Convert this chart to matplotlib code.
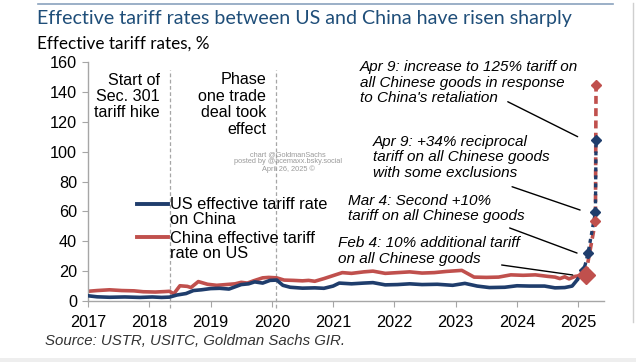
import matplotlib
matplotlib.use("Agg")
import matplotlib.pyplot as plt
from matplotlib.lines import Line2D
from matplotlib.patches import Rectangle

# ---- data (decimal years, effective tariff rate %) ----
us_x = [2017.00, 2017.15, 2017.35, 2017.60, 2017.85, 2018.05, 2018.20, 2018.33,
        2018.45, 2018.60, 2018.72, 2018.85, 2019.00, 2019.15, 2019.30, 2019.40,
        2019.50, 2019.62, 2019.72, 2019.85, 2019.97, 2020.08, 2020.18, 2020.30,
        2020.50, 2020.70, 2020.85, 2021.00, 2021.10, 2021.30, 2021.50, 2021.65,
        2021.85, 2022.05, 2022.25, 2022.45, 2022.70, 2022.95, 2023.15, 2023.35,
        2023.55, 2023.80, 2024.00, 2024.20, 2024.45, 2024.62, 2024.78, 2024.90,
        2024.98]
us_y = [3.5, 2.8, 2.5, 2.7, 2.4, 2.7, 2.4, 2.6,
        4.0, 5.0, 7.0, 7.5, 8.3, 8.5, 8.0, 9.5,
        11.0, 11.5, 12.8, 12.0, 13.8, 14.0, 10.5, 9.2,
        8.6, 8.8, 8.5, 10.0, 12.0, 11.5, 12.0, 12.3,
        10.8, 11.0, 11.5, 11.0, 11.2, 10.5, 11.8, 10.0,
        9.0, 9.2, 10.2, 10.0, 10.0, 8.8, 9.0, 10.0,
        14.0]
us_new_x = [2024.98, 2025.09, 2025.16, 2025.28, 2025.29]
us_new_y = [14.0, 20.5, 32.0, 59.5, 107.5]

cn_x = [2017.00, 2017.15, 2017.35, 2017.55, 2017.75, 2017.90, 2018.10, 2018.25,
        2018.33, 2018.40, 2018.50, 2018.62, 2018.68, 2018.80, 2018.95, 2019.10,
        2019.25, 2019.40, 2019.50, 2019.60, 2019.70, 2019.85, 2019.95, 2020.08,
        2020.20, 2020.35, 2020.50, 2020.60, 2020.70, 2020.85, 2021.00, 2021.15,
        2021.30, 2021.50, 2021.65, 2021.85, 2022.05, 2022.25, 2022.45, 2022.65,
        2022.85, 2023.10, 2023.30, 2023.50, 2023.70, 2023.90, 2024.10, 2024.30,
        2024.50, 2024.62, 2024.70, 2024.78, 2024.85, 2024.95, 2025.05, 2025.12]
cn_y = [6.5, 7.0, 7.5, 7.0, 6.8, 6.2, 6.0, 6.3,
        6.5, 4.8, 10.2, 9.8, 9.0, 13.0, 11.2, 10.5,
        11.0, 11.5, 12.5, 12.0, 13.5, 15.5, 15.8, 15.5,
        14.0, 13.8, 13.5, 13.8, 13.2, 15.0, 17.0, 19.0,
        18.5, 19.5, 20.0, 18.5, 19.0, 19.5, 18.7, 19.0,
        19.8, 20.5, 16.0, 15.8, 16.0, 17.5, 17.2, 17.5,
        16.5, 16.0, 15.0, 16.2, 14.8, 16.5, 17.0, 17.5]
cn_new_x = [2025.12, 2025.28, 2025.29]
cn_new_y = [17.5, 53.5, 144.6]

event_x = [2018.33, 2020.07]
year_ticks = list(range(2017, 2026))
y_ticks = list(range(0, 161, 20))

BLUE = "#1f3d6c"
RED = "#c0504d"
GRID = "#a6a6a6"
W, H = 636, 362


def fx(px):
    return px / W


def fy(py):
    return 1 - py / H


plt.rcParams['font.family'] = ['Liberation Sans', 'DejaVu Sans']

fig = plt.figure(figsize=(6.36, 3.62), dpi=100)
ax = fig.add_axes([fx(88), fy(301), fx(604) - fx(88), fy(62) - fy(301)])

ax.plot(us_x, us_y, color=BLUE, lw=2.6, solid_joinstyle='round', zorder=3)
ax.plot(cn_x, cn_y, color=RED, lw=2.6, solid_joinstyle='round', zorder=2)
ax.plot(cn_new_x, cn_new_y, color=RED, lw=2.6, ls=(0, (2.2, 1.2)), zorder=3)
ax.plot(us_new_x, us_new_y, color=BLUE, lw=2.4, ls=(0, (1.2, 1.2)), zorder=4)
ax.plot(us_new_x[1:], us_new_y[1:], ls='none', marker='D', ms=5.5,
        color=BLUE, zorder=5)
ax.plot(cn_new_x[1:], cn_new_y[1:], ls='none', marker='D', ms=5.5,
        color=RED, zorder=5)
ax.plot(cn_new_x[:1], cn_new_y[:1], ls='none', marker='D', ms=9,
        color=RED, zorder=6)

for ex in event_x:
    ax.plot([ex, ex], [-5, 154.5], color=GRID, lw=0.9, ls=(0, (3, 2)),
            clip_on=False, zorder=1)

ax.set_xlim(2017, 2025.42)
ax.set_ylim(0, 160)
ax.set_xticks(year_ticks)
ax.set_yticks(y_ticks)
for s in ['top', 'right']:
    ax.spines[s].set_visible(False)
for s in ['left', 'bottom']:
    ax.spines[s].set_color(GRID)
    ax.spines[s].set_linewidth(1.0)
ax.tick_params(axis='both', direction='out', length=4, color=GRID,
               labelsize=11.7, labelcolor='black')
ax.tick_params(axis='y', pad=4)
ax.tick_params(axis='x', pad=6)

# annotation leader lines (data coords)
leaders = [((2023.85, 133.4), (2024.99, 110.0)),
           ((2023.92, 76.5), (2025.03, 60.9)),
           ((2023.88, 48.9), (2024.98, 32.1)),
           ((2023.75, 24.1), (2024.91, 17.4))]
for start, end in leaders:
    ax.annotate("", xy=end, xytext=start,
                arrowprops=dict(arrowstyle='-', lw=1.0, color='black',
                                shrinkA=0, shrinkB=0))

ann_kw = dict(fontsize=11, style='italic', linespacing=1.1, ha='left',
              va='center', color='black')
fig.text(fx(360), fy(82.5), "Apr 9: increase to 125% tariff on\n"
         "all Chinese goods in response\nto China's retaliation", **ann_kw)
fig.text(fx(373), fy(157.5), "Apr 9: +34% reciprocal\n"
         "tariff on all Chinese goods\nwith some exclusions", **ann_kw)
fig.text(fx(348), fy(208.5), "Mar 4: Second +10%\n"
         "tariff on all Chinese goods", **ann_kw)
fig.text(fx(338), fy(251), "Feb 4: 10% additional tariff\n"
         "on all Chinese goods", **ann_kw)

ev_kw = dict(fontsize=11.6, linespacing=1.12, ha='right', va='center',
             color='black', multialignment='right')
fig.text(fx(160), fy(96.5), "Start of\nSec. 301\ntariff hike", **ev_kw)
fig.text(fx(266), fy(104.5), "Phase\none trade\ndeal took\neffect", **ev_kw)

# watermark
fig.text(fx(288), fy(162), "chart @GoldmanSachs\nposted by @acemaxx.bsky.social\n"
         "April 26, 2025 \u00a9", fontsize=5.3, color='#9a9a9a',
         ha='center', va='center', linespacing=1.0)

# legend drawn by hand
leg_kw = dict(fontsize=11.8, linespacing=1.05, ha='left', va='center',
              color='black')
fig.add_artist(Line2D([fx(137), fx(168)], [fy(203.5), fy(203.5)],
                      color=BLUE, lw=2.8))
fig.add_artist(Line2D([fx(137), fx(168)], [fy(237), fy(237)],
                      color=RED, lw=2.8))
fig.text(fx(170), fy(212), "US effective tariff rate\non China", **leg_kw)
fig.text(fx(170), fy(246), "China effective tariff\nrate on US", **leg_kw)

# title, subtitle, source
fig.text(fx(37), fy(18.5), "Effective tariff rates between US and China have risen sharply",
         fontsize=14.1, color='#1f4e79', family=['Lato', 'DejaVu Sans'],
         ha='left', va='center')
fig.text(fx(37), fy(43.5), "Effective tariff rates, %", fontsize=12.3,
         color='black', family=['Lato', 'DejaVu Sans'], ha='left', va='center')
fig.text(fx(45), fy(341), "Source: USTR, USITC, Goldman Sachs GIR.",
         fontsize=10.8, style='italic', color='#333333', ha='left', va='center')

# frame lines of the original screenshot
fig.add_artist(Line2D([fx(38), fx(613)], [fy(3.5), fy(3.5)], color='#8aa2bd', lw=1.2))
fig.add_artist(Line2D([fx(633), fx(633)], [fy(3), fy(322)], color='#cfcfcf', lw=1.0))
fig.add_artist(Rectangle((0, 0), 1, fy(358), transform=fig.transFigure,
                         color='#eeeeee', lw=0))

fig.savefig("out.png", dpi=100, facecolor='white')
